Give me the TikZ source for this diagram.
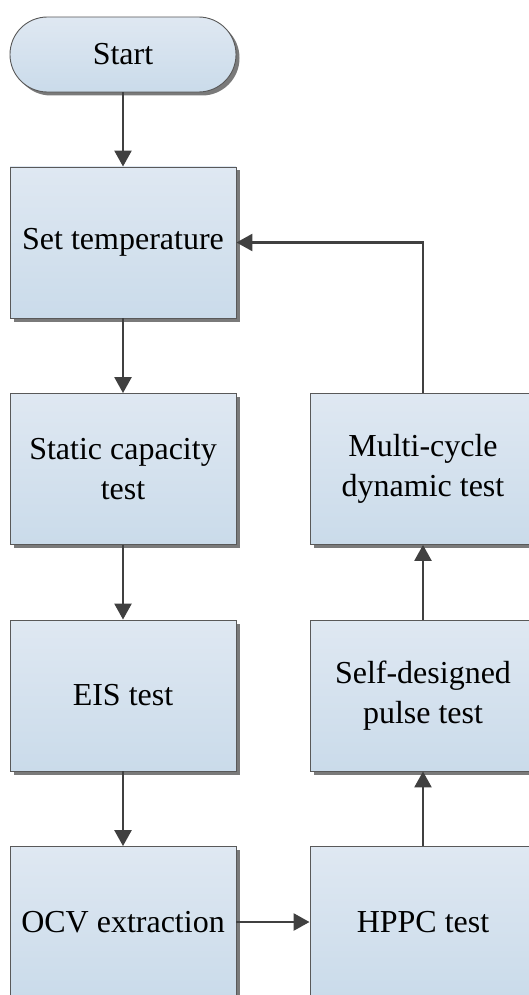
\documentclass[tikz,border=0pt]{standalone}
\usepackage{fontspec}
\setmainfont{Liberation Serif}
\usetikzlibrary{arrows.meta,shadows}

\definecolor{boxtop}{HTML}{DFE8F2}
\definecolor{boxbot}{HTML}{CADBEA}
\definecolor{boxline}{HTML}{595959}
\definecolor{flowline}{HTML}{404040}
\definecolor{shadowgray}{HTML}{7A7A7A}

\tikzset{
  stepbox/.style={
    rectangle, minimum width=226pt, minimum height=151pt, inner sep=0pt,
    draw=boxline, line width=0.9pt, top color=boxtop, bottom color=boxbot,
    align=center, font=\fontsize{32}{40}\selectfont,
    drop shadow={shadow xshift=3.5pt, shadow yshift=-3.5pt, fill=shadowgray, opacity=1}
  },
  terminal/.style={
    stepbox, minimum height=75pt, rounded corners=37.4pt
  },
  flow/.style={
    draw=flowline, line width=2.6pt,
    -{Triangle[length=16pt,width=17pt]}
  }
}

\begin{document}
\begin{tikzpicture}[x=1pt,y=1pt]
  \useasboundingbox (0,0) rectangle (528,-995);

  % left column
  \node[terminal] (start)    at (123,-54.5)  {Start};
  \node[stepbox]  (settemp)  at (123,-242.5) {Set temperature};
  \node[stepbox]  (static)   at (123,-469)   {Static capacity\\test};
  \node[stepbox]  (eis)      at (123,-695.5) {EIS test};
  \node[stepbox]  (ocv)      at (123,-922)   {OCV extraction};

  % right column
  \node[stepbox]  (multi)    at (423,-469)   {Multi-cycle\\dynamic test};
  \node[stepbox]  (pulse)    at (423,-695.5) {Self-designed\\pulse test};
  \node[stepbox]  (hppc)     at (423,-922)   {HPPC test};

  % connectors
  \draw[flow] (start) -- (settemp);
  \draw[flow] (settemp) -- (static);
  \draw[flow] (static) -- (eis);
  \draw[flow] (eis) -- (ocv);
  \draw[flow] (ocv) -- (hppc);
  \draw[flow] (hppc) -- (pulse);
  \draw[flow] (pulse) -- (multi);
  \draw[flow] (multi.north) |- (settemp.east);
\end{tikzpicture}
\end{document}
